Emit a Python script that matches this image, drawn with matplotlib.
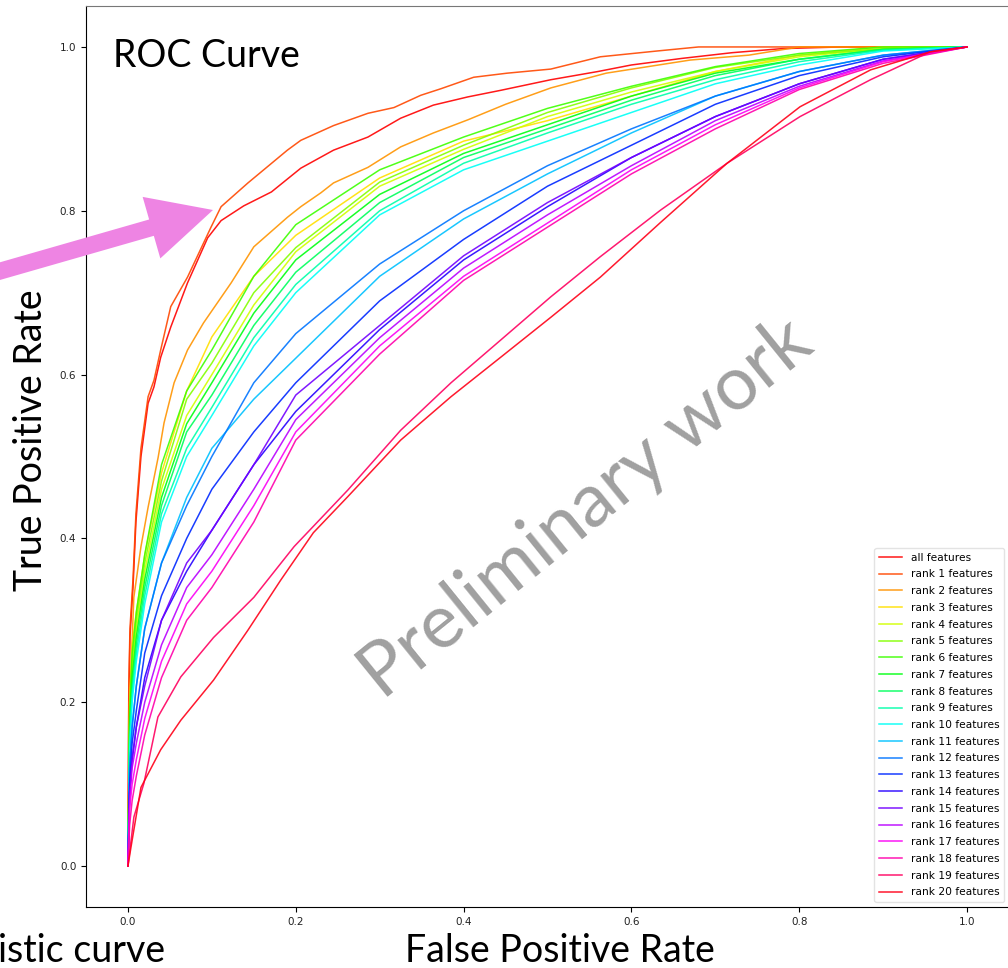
import numpy as np
import matplotlib
matplotlib.use('Agg')
import matplotlib.pyplot as plt
from matplotlib.patches import FancyArrow
from matplotlib.transforms import IdentityTransform

# curves (false positive rate, true positive rate)
fpr_all = [0, 0.001, 0.0024, 0.006, 0.0095, 0.0155, 0.024, 0.031, 0.039, 0.051, 0.071, 0.095, 0.111, 0.138,
           0.171, 0.206, 0.245, 0.286, 0.325, 0.364, 0.405, 0.444, 0.504, 0.56, 0.60, 0.66, 0.72, 0.78, 0.85, 1.0]
tpr_all = [0, 0.20, 0.28, 0.34, 0.42, 0.50, 0.565, 0.585, 0.621, 0.658, 0.712, 0.767, 0.788, 0.806,
           0.823, 0.852, 0.874, 0.89, 0.913, 0.929, 0.939, 0.947, 0.96, 0.97, 0.978, 0.986, 0.993, 0.998, 1.0, 1.0]

fpr_r1 = [0, 0.001, 0.0024, 0.006, 0.0095, 0.0155, 0.024, 0.031, 0.039, 0.051, 0.071, 0.099, 0.111, 0.143,
          0.19, 0.206, 0.245, 0.286, 0.317, 0.349, 0.373, 0.412, 0.452, 0.504, 0.563, 0.63, 0.68, 1.0]
tpr_r1 = [0, 0.22, 0.29, 0.35, 0.43, 0.51, 0.573, 0.593, 0.63, 0.683, 0.719, 0.78, 0.805, 0.834,
          0.874, 0.886, 0.904, 0.919, 0.926, 0.941, 0.949, 0.963, 0.968, 0.973, 0.988, 0.995, 1.0, 1.0]

fpr_r2 = [0, 0.002, 0.007, 0.0155, 0.024, 0.036, 0.043, 0.055, 0.071, 0.09, 0.123, 0.15, 0.19, 0.206,
          0.23, 0.245, 0.286, 0.325, 0.364, 0.405, 0.45, 0.504, 0.57, 0.67, 0.74, 0.8, 1.0]
tpr_r2 = [0, 0.20, 0.328, 0.39, 0.438, 0.499, 0.541, 0.59, 0.63, 0.663, 0.712, 0.756, 0.792, 0.805,
          0.822, 0.834, 0.853, 0.878, 0.895, 0.911, 0.93, 0.95, 0.968, 0.984, 0.99, 1.0, 1.0]

# ranks 3..18 read at the same false positive rates
fpr_mid = [0, 0.002, 0.005, 0.01, 0.02, 0.04, 0.07, 0.1, 0.15, 0.2, 0.3, 0.4, 0.5, 0.6, 0.7, 0.8, 0.9, 1.0]
tpr_r3 = [0, 0.20, 0.27, 0.31, 0.38, 0.48, 0.58, 0.646, 0.72, 0.77, 0.84, 0.885, 0.91, 0.94, 0.97, 0.99, 1.0, 1.0]
tpr_r4 = [0, 0.17, 0.24, 0.29, 0.36, 0.46, 0.55, 0.60, 0.685, 0.75, 0.83, 0.875, 0.915, 0.945, 0.97, 0.988, 0.998, 1.0]
tpr_r5 = [0, 0.18, 0.25, 0.30, 0.37, 0.47, 0.57, 0.614, 0.70, 0.755, 0.835, 0.88, 0.92, 0.95, 0.975, 0.99, 0.998, 1.0]
tpr_r6 = [0, 0.19, 0.26, 0.31, 0.38, 0.49, 0.58, 0.63, 0.72, 0.783, 0.85, 0.89, 0.925, 0.952, 0.976, 0.992, 1.0, 1.0]
tpr_r7 = [0, 0.17, 0.23, 0.28, 0.35, 0.45, 0.54, 0.59, 0.675, 0.74, 0.82, 0.87, 0.905, 0.94, 0.968, 0.985, 0.997, 1.0]
tpr_r8 = [0, 0.16, 0.22, 0.27, 0.34, 0.44, 0.53, 0.575, 0.66, 0.725, 0.81, 0.865, 0.90, 0.935, 0.965, 0.985, 0.997, 1.0]
tpr_r9 = [0, 0.15, 0.21, 0.26, 0.33, 0.43, 0.51, 0.56, 0.645, 0.71, 0.80, 0.858, 0.895, 0.93, 0.96, 0.982, 0.996, 1.0]
tpr_r10 = [0, 0.14, 0.20, 0.25, 0.32, 0.42, 0.50, 0.55, 0.635, 0.70, 0.795, 0.85, 0.885, 0.92, 0.955, 0.978, 0.995, 1.0]
tpr_r11 = [0, 0.12, 0.17, 0.22, 0.29, 0.37, 0.45, 0.51, 0.57, 0.62, 0.72, 0.79, 0.845, 0.895, 0.94, 0.97, 0.99, 1.0]
tpr_r12 = [0, 0.12, 0.17, 0.22, 0.29, 0.37, 0.44, 0.50, 0.59, 0.65, 0.735, 0.80, 0.855, 0.90, 0.94, 0.97, 0.99, 1.0]
tpr_r13 = [0, 0.10, 0.15, 0.19, 0.26, 0.33, 0.40, 0.46, 0.53, 0.59, 0.69, 0.765, 0.83, 0.88, 0.93, 0.965, 0.988, 1.0]
tpr_r14 = [0, 0.09, 0.13, 0.17, 0.23, 0.30, 0.36, 0.41, 0.49, 0.555, 0.655, 0.74, 0.805, 0.865, 0.915, 0.955, 0.985, 1.0]
tpr_r15 = [0, 0.09, 0.13, 0.17, 0.22, 0.30, 0.37, 0.41, 0.49, 0.575, 0.66, 0.745, 0.81, 0.865, 0.915, 0.955, 0.985, 1.0]
tpr_r16 = [0, 0.08, 0.12, 0.15, 0.20, 0.27, 0.34, 0.38, 0.46, 0.545, 0.645, 0.73, 0.795, 0.855, 0.91, 0.952, 0.983, 1.0]
tpr_r17 = [0, 0.07, 0.10, 0.13, 0.18, 0.25, 0.32, 0.36, 0.44, 0.53, 0.635, 0.72, 0.785, 0.85, 0.905, 0.95, 0.982, 1.0]
tpr_r18 = [0, 0.05, 0.08, 0.11, 0.16, 0.23, 0.30, 0.34, 0.42, 0.52, 0.625, 0.715, 0.78, 0.845, 0.90, 0.948, 0.98, 1.0]

fpr_r19 = [0, 0.0071, 0.019, 0.0357, 0.063, 0.102, 0.15, 0.198, 0.262, 0.325, 0.385, 0.444, 0.504, 0.563,
           0.635, 0.714, 0.801, 0.885, 0.956, 1.0]
tpr_r19 = [0, 0.06, 0.101, 0.182, 0.231, 0.279, 0.328, 0.39, 0.459, 0.532, 0.59, 0.642, 0.695, 0.744,
           0.801, 0.858, 0.915, 0.96, 0.994, 1.0]
fpr_r20 = [0, 0.0036, 0.0155, 0.039, 0.063, 0.102, 0.143, 0.182, 0.221, 0.262, 0.325, 0.385, 0.444, 0.504,
           0.563, 0.635, 0.714, 0.801, 0.885, 0.956, 1.0]
tpr_r20 = [0, 0.023, 0.096, 0.142, 0.178, 0.227, 0.288, 0.349, 0.407, 0.451, 0.52, 0.573, 0.621, 0.67,
           0.719, 0.786, 0.858, 0.927, 0.972, 0.994, 1.0]

labels = ['all features'] + ['rank %d features' % i for i in range(1, 21)]
curves = [(fpr_all, tpr_all), (fpr_r1, tpr_r1), (fpr_r2, tpr_r2)]
for t in [tpr_r3, tpr_r4, tpr_r5, tpr_r6, tpr_r7, tpr_r8, tpr_r9, tpr_r10, tpr_r11,
          tpr_r12, tpr_r13, tpr_r14, tpr_r15, tpr_r16, tpr_r17, tpr_r18]:
    curves.append((fpr_mid, t))
curves += [(fpr_r19, tpr_r19), (fpr_r20, tpr_r20)]

colors = plt.cm.hsv(np.linspace(0, 1, len(curves)))

fig = plt.figure(figsize=(10.08, 9.68), dpi=100)
ax = fig.add_axes([86 / 1008, 1 - 907 / 968, 923 / 1008, 901 / 968])

for (x, y), c, lab in zip(curves, colors, labels):
    ax.plot(x, y, color=c, lw=1.1, alpha=0.9, label=lab)

ax.tick_params(labelsize=7.5, labelcolor='#222222', length=3.5)
ax.spines['top'].set_color('#777777')
leg = ax.legend(loc='lower right', fontsize=7.7, handlelength=2.2, labelspacing=0.63)
leg.get_frame().set_edgecolor('#dddddd')

# slide annotations on top of the plot
big = dict(family=['Lato', 'DejaVu Sans'], color='black')
fig.text(113 / 1008, 1 - 67 / 968, 'ROC Curve', fontsize=27, **big)
fig.text(31 / 1008, 1 - 440 / 968, 'True Positive Rate', rotation=90, ha='center', va='center',
         fontsize=27, **big)
fig.text(560 / 1008, 1 - 951 / 968, 'False Positive Rate', ha='center', va='center', fontsize=27, **big)
fig.text(-2 / 1008, 1 - 951 / 968, 'istic curve', ha='left', va='center', fontsize=27, **big)
fig.text(586 / 1008, 1 - 508 / 968, 'Preliminary work', rotation=39, ha='center', va='center',
         fontsize=54, color='#a0a0a0', family=['Lato', 'DejaVu Sans'])

# pink pointer arrow coming in from the slide edge (display pixels, origin bottom-left)
fig.add_artist(FancyArrow(-10, 694, 223, 64, width=17, head_width=64, head_length=64,
                          length_includes_head=True, color='#ee84e3', lw=0,
                          transform=IdentityTransform(), zorder=10))

fig.savefig('out.png', dpi=100)
